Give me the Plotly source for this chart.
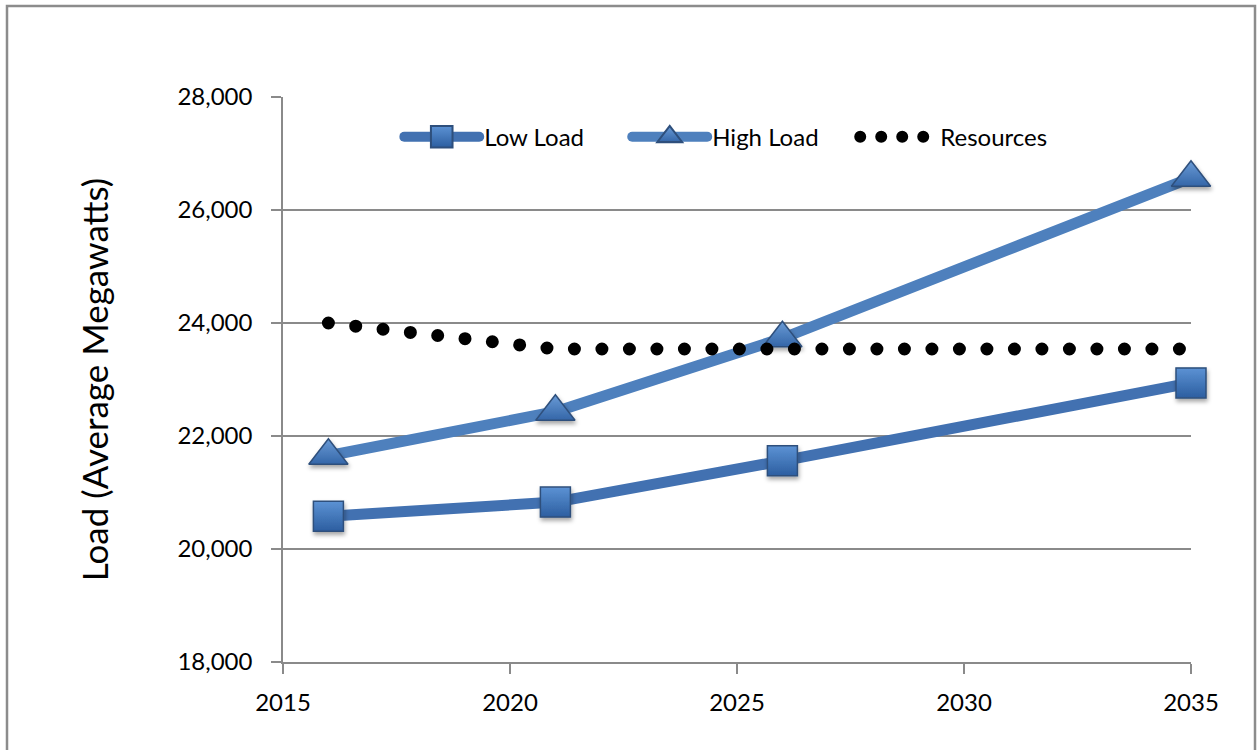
import plotly.graph_objects as go

# Load forecast (average megawatts) and available resources
years = [2016, 2021, 2026, 2035]
low_load = [20580, 20830, 21560, 22940]
high_load = [21650, 22430, 23730, 26570]
resource_years = [2016, 2021, 2026, 2035]
resources = [24000, 23540, 23540, 23540]

x_ticks = [2015, 2020, 2025, 2030, 2035]
y_ticks = [18000, 20000, 22000, 24000, 26000, 28000]

FONT = "Lato, Calibri, 'Open Sans', sans-serif"
GRID = "#8a8a8a"

fig = go.Figure()

fig.add_trace(go.Scatter(
    x=years, y=low_load, name="Low Load", mode="lines+markers",
    line=dict(color="#4271B1", width=11),
    marker=dict(symbol="square", size=30, color="#5C92D4",
                gradient=dict(type="vertical", color="#2C5EA0"),
                line=dict(color="#2E4F7C", width=1.5)),
    cliponaxis=False,
))
fig.add_trace(go.Scatter(
    x=years, y=high_load, name="High Load", mode="lines+markers",
    line=dict(color="#4E80BD", width=11),
    marker=dict(symbol="triangle-up", size=34, color="#6A9BD6",
                gradient=dict(type="vertical", color="#3466A8"),
                line=dict(color="#2E4F7C", width=1.5)),
    cliponaxis=False,
))
fig.add_trace(go.Scatter(
    x=resource_years, y=resources, name="Resources", mode="lines",
    line=dict(color="black", width=13, dash="0px,27.5px"),
    cliponaxis=False,
))

fig.update_layout(
    width=1257, height=750,
    margin=dict(l=283, r=66, t=97, b=88),
    paper_bgcolor="white", plot_bgcolor="white",
    font=dict(family=FONT, size=24, color="black"),
    showlegend=True,
    legend=dict(
        orientation="h", x=0.128, y=0.929, xanchor="left", yanchor="middle",
        font=dict(family=FONT, size=24, color="black"),
        itemwidth=75, entrywidth=138, bgcolor="rgba(0,0,0,0)",
        tracegroupgap=0,
    ),
    xaxis=dict(
        range=[2015, 2035], tickvals=x_ticks, ticktext=[str(v) for v in x_ticks],
        showgrid=False, zeroline=False,
        showline=True, linecolor=GRID, linewidth=1.5,
        ticks="outside", ticklen=10, tickwidth=1.5, tickcolor=GRID,
        ticklabelstandoff=8,
        tickfont=dict(family=FONT, size=24, color="black"),
    ),
    yaxis=dict(
        range=[18000, 28000], tickvals=y_ticks, tickformat=",",
        showgrid=True, gridcolor=GRID, gridwidth=1.5, zeroline=False,
        showline=True, linecolor=GRID, linewidth=1.5,
        ticks="outside", ticklen=10, tickwidth=1.5, tickcolor=GRID,
        ticklabelstandoff=14,
        tickfont=dict(family=FONT, size=24, color="black"),
        title=dict(text="Load (Average Megawatts)", standoff=58,
                   font=dict(family=FONT, size=35, color="black")),
    ),
    shapes=[dict(
        type="rect", xref="paper", yref="paper",
        x0=(7 - 283) / 908, x1=(1255 - 283) / 908,
        y0=-0.3, y1=(662 - 6) / 565,
        line=dict(color="#8c8c8c", width=2.5), fillcolor="rgba(0,0,0,0)",
        layer="below",
    )],
)

# Round dot caps, soft marker shadows and legend symbol tweaks
post_js = """
var gd = document.getElementById('{plot_id}');
var svg = gd.querySelector('svg.main-svg');
var ns = 'http://www.w3.org/2000/svg';
var defs = svg.querySelector('defs');
var f = document.createElementNS(ns, 'filter');
f.setAttribute('id', 'mkshadow');
f.setAttribute('x', '-50%'); f.setAttribute('y', '-50%');
f.setAttribute('width', '200%'); f.setAttribute('height', '200%');
var ds = document.createElementNS(ns, 'feDropShadow');
ds.setAttribute('dx', '1'); ds.setAttribute('dy', '3');
ds.setAttribute('stdDeviation', '2');
ds.setAttribute('flood-color', '#000'); ds.setAttribute('flood-opacity', '0.35');
f.appendChild(ds); defs.appendChild(f);
var traces = gd.querySelectorAll('.scatterlayer .trace');
traces.forEach(function(t, i) {
  t.querySelectorAll('path.js-line').forEach(function(p) {
    p.style.strokeLinecap = 'round';
    p.style.strokeLinejoin = 'round';
  });
  t.querySelectorAll('.points path').forEach(function(p) {
    p.setAttribute('filter', 'url(#mkshadow)');
  });
});
var leg = gd.querySelectorAll('.legend .traces');
leg.forEach(function(t, i) {
  t.querySelectorAll('.legendlines path').forEach(function(p) {
    p.style.strokeLinecap = 'round';
    if (i === 2) { p.style.strokeDasharray = '0px,21px'; p.style.strokeWidth = '12px'; }
  });
  t.querySelectorAll('.legendpoints path').forEach(function(p) {
    var tr = p.getAttribute('transform') || '';
    p.setAttribute('transform', tr + ' scale(1.35)');
  });
});
"""

fig.write_html("out.html", post_script=post_js)
